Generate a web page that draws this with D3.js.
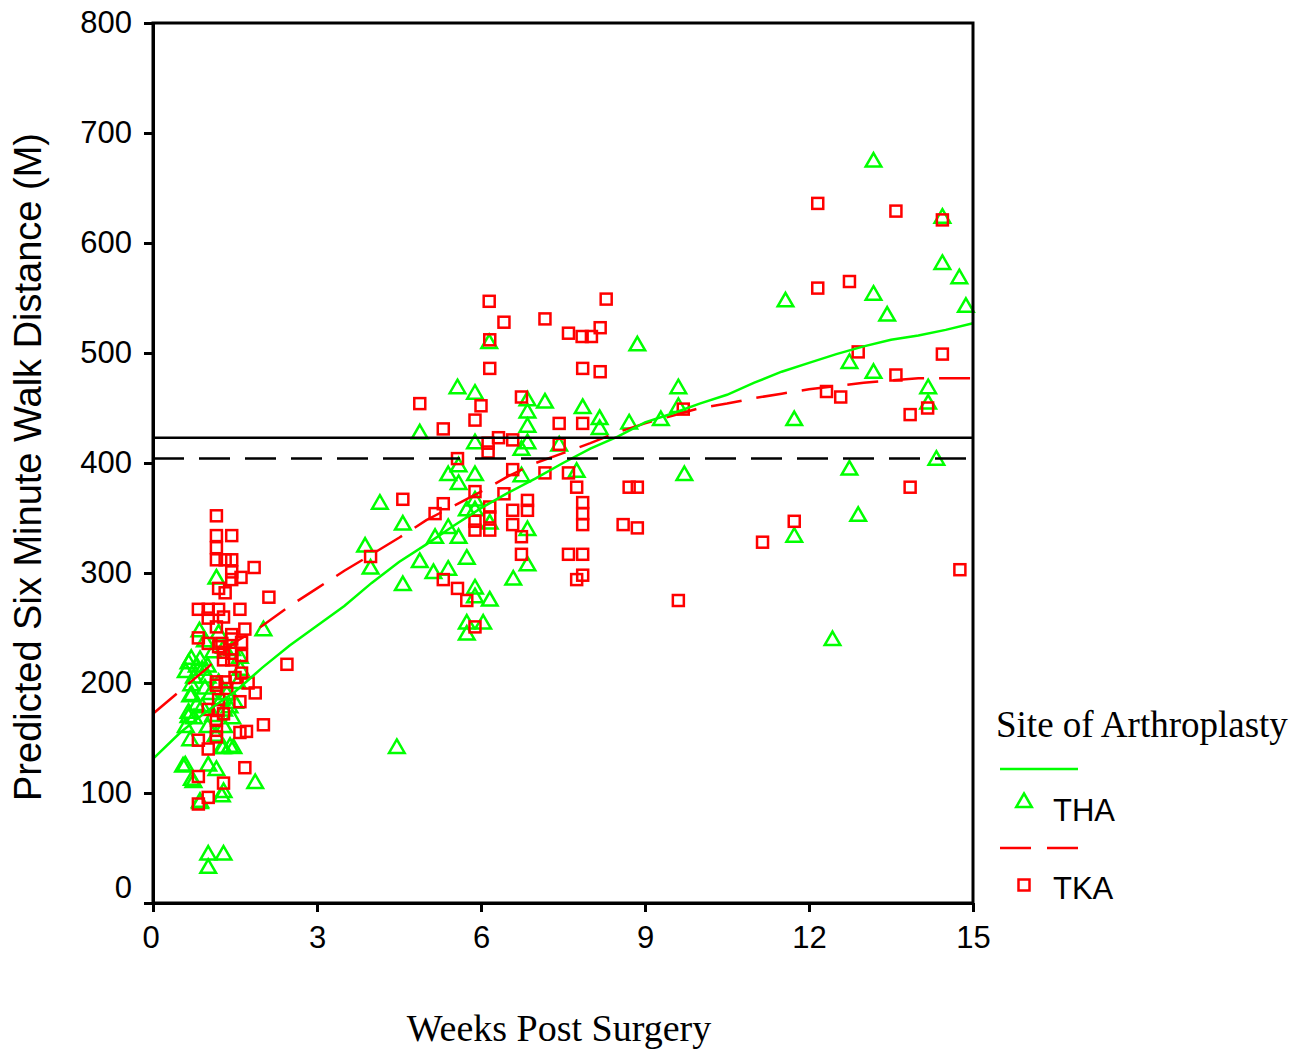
<!DOCTYPE html>
<html>
<head>
<meta charset="utf-8">
<script src="https://cdn.jsdelivr.net/npm/d3@7/dist/d3.min.js"></script>
<style>
  html, body { margin: 0; padding: 0; background: #fff; }
  svg { display: block; }
</style>
</head>
<body>
<svg id="chart" width="1294" height="1049"></svg>
<script>
// ---------------- DATA ----------------
const xTicks = [0, 3, 6, 9, 12, 15];
const yTicks = [0, 100, 200, 300, 400, 500, 600, 700, 800];
const seriesNames = ["THA", "TKA"];
const legendTitle = "Site of Arthroplasty";
const xTitle = "Weeks Post Surgery";
const yTitle = "Predicted Six Minute Walk Distance (M)";

// reference lines (distance in metres)
const solidRef = 423;
const dashedRef = 404;

// THA observations [weeks, distance]
const thaPoints = [
  [1.16,295],[2.02,248],[0.85,247],[0.65,218],[0.86,221],[1.59,223],[0.68,188],[0.65,173],
  [0.68,148],[1.41,142],[1.26,141],[0.55,124],[1.01,125],[1.16,121],[0.74,110],[1.87,109],
  [1.29,101],[0.86,92],[1.01,44],[1.29,44],[1.01,32],[0.71,189],[0.65,169],[1.29,141],
  [1.47,141],[0.59,125],[0.71,112],[1.26,97],[0.86,91],
  [0.6,210],[0.7,222],[0.75,205],[0.8,215],[0.9,212],[0.95,195],[1.0,205],[1.05,190],
  [0.7,198],[0.8,180],[0.9,178],[1.1,170],[1.2,200],[1.25,185],[1.3,175],[1.35,190],
  [1.4,178],[1.45,168],[1.5,182],[1.55,200],[1.6,212],[0.6,160],[0.75,168],[1.0,160],
  [1.15,152],[1.3,160],[0.95,238],[1.1,228],[1.2,245],[1.3,232],[1.45,230],[1.0,215],
  [4.46,141],[4.15,363],[4.57,344],[3.88,324],[3.98,304],[4.57,289],[4.88,427],[4.88,310],
  [5.13,300],[5.16,332],[5.4,303],[5.4,341],[5.4,389],[5.57,468],[5.59,397],[5.59,381],
  [5.59,332],[5.74,313],[5.74,357],[5.74,254],[5.74,244],[5.89,463],[5.89,418],[5.89,389],
  [5.89,366],[5.89,286],[5.89,278],[5.89,357],[6.04,254],[6.15,509],[6.16,345],[6.16,275],
  [6.59,294],[6.74,412],[6.74,388],[6.85,457],[6.85,446],[6.85,433],[6.85,418],[6.85,339],
  [6.85,307],[7.17,455],[7.43,416],[7.75,392],[7.86,450],[8.17,440],[8.17,431],[8.71,436],
  [8.86,507],[9.29,439],[9.61,468],[9.61,451],[9.72,389],
  [11.57,547],[11.73,439],[11.73,333],[12.43,239],[12.74,491],[12.74,394],[12.9,352],
  [13.18,674],[13.18,553],[13.18,482],[13.43,534],[14.18,468],[14.18,454],[14.33,403],
  [14.44,623],[14.44,581],[14.75,568],[14.87,542]
];

// TKA observations [weeks, distance]
const tkaPoints = [
  [1.16,352],[1.16,334],[1.44,334],[1.16,323],[1.16,312],[1.32,312],[1.44,312],[1.44,301],
  [1.44,294],[1.61,296],[1.85,305],[1.2,286],[1.32,282],[2.12,278],[0.83,267],[1.01,267],
  [1.2,267],[1.59,267],[1.01,259],[1.29,260],[1.16,251],[1.68,249],[1.44,244],[0.83,241],
  [1.01,236],[1.26,236],[1.62,237],[1.29,228],[1.62,225],[1.44,227],[1.29,221],[1.44,221],
  [2.45,217],[1.62,209],[1.16,201],[1.32,201],[1.74,200],[1.16,198],[1.87,191],[1.59,183],
  [1.01,176],[1.19,175],[1.29,172],[1.16,166],[2.02,162],[1.71,156],[1.59,155],[1.16,157],
  [1.16,151],[0.83,148],[1.01,140],[1.68,123],[0.83,115],[1.29,109],[1.01,96],[0.83,90],
  [1.44,240],[1.2,233],[1.5,205],[1.35,195],[1.2,185],
  [3.98,315],[4.57,367],[4.88,454],[5.16,354],[5.31,431],[5.31,363],[5.31,294],[5.57,404],
  [5.57,286],[5.74,275],[5.89,439],[5.89,374],[5.89,347],[5.89,339],[5.89,251],[6.0,452],
  [6.13,418],[6.13,410],[6.15,547],[6.16,512],[6.16,486],[6.16,360],[6.16,351],[6.16,339],
  [6.32,423],[6.42,528],[6.42,372],[6.58,421],[6.58,394],[6.58,357],[6.58,344],[6.74,460],
  [6.74,333],[6.74,317],[6.85,366],[6.85,357],[7.17,531],[7.17,391],[7.43,436],[7.43,417],
  [7.6,518],[7.6,391],[7.6,317],[7.75,378],[7.75,294],[7.85,515],[7.86,486],[7.86,436],
  [7.86,364],[7.86,354],[7.86,344],[7.86,317],[7.86,298],[8.02,515],[8.18,523],[8.18,483],
  [8.29,549],[8.6,344],[8.71,378],[8.86,378],[8.86,341],[9.61,275],[9.7,449],
  [11.15,328],[11.73,347],[12.16,636],[12.16,559],[12.32,465],[12.58,460],[12.74,565],
  [12.9,501],[13.59,629],[13.59,480],[13.85,444],[13.85,378],[14.17,450],[14.44,621],
  [14.44,499],[14.76,303]
];

// smoothed (loess) curves [weeks, distance]
const thaCurve = [
  [0,131],[0.5,155],[1,175],[1.5,192],[2,214],[2.5,234],[3,252],[3.5,270],[4,291],[4.5,310],
  [5,326],[5.5,343],[6,359],[6.5,373],[7,386],[7.5,400],[8,413],[8.5,424],[9,437],[9.5,445],
  [10,454],[10.5,462],[11,473],[11.5,483],[12,491],[12.5,499],[13,506],[13.5,512],[14,516],
  [14.5,521],[15,527]
];
const tkaCurve = [
  [0,172],[0.5,193],[1,214],[1.5,237],[2,252],[2.5,270],[3,286],[3.5,302],[4,317],[4.5,332],
  [5,348],[5.5,361],[6,374],[6.5,388],[7,400],[7.5,409],[8,418],[8.5,428],[9,436],[9.5,443],
  [10,450],[10.5,454],[11,459],[11.5,463],[12,467],[12.5,470],[13,473],[13.5,475],[14,477],
  [14.5,477],[15,477]
];

// ---------------- STYLE / LAYOUT ----------------
const GREEN = "#00ff00", RED = "#ff0000";
const M = { left: 153, right: 973, top: 23, bottom: 903 };
const SANS = "'Liberation Sans', Arial, sans-serif";
const SERIF = "'Liberation Serif', 'Times New Roman', serif";

const svg = d3.select("#chart");
const x = d3.scaleLinear().domain([0, 15]).range([M.left, M.right]);
const y = d3.scaleLinear().domain([0, 800]).range([M.bottom, M.top]);

const triPath = "M0,-8.5 L7.8,5 L-7.8,5 Z";

// points
const gPts = svg.append("g");
gPts.selectAll("path.tha").data(thaPoints).join("path")
  .attr("class", "tha")
  .attr("d", triPath)
  .attr("transform", d => `translate(${x(d[0])},${y(d[1])})`)
  .attr("fill", "none").attr("stroke", GREEN).attr("stroke-width", 2.5);

gPts.selectAll("rect.tka").data(tkaPoints).join("rect")
  .attr("class", "tka")
  .attr("x", d => x(d[0]) - 5.5).attr("y", d => y(d[1]) - 5.5)
  .attr("width", 11).attr("height", 11)
  .attr("fill", "none").attr("stroke", RED).attr("stroke-width", 2.5);

// curves
const line = d3.line().x(d => x(d[0])).y(d => y(d[1]));
svg.append("path").datum(tkaCurve).attr("d", line)
  .attr("fill", "none").attr("stroke", RED).attr("stroke-width", 2.5)
  .attr("stroke-dasharray", "31,15");
svg.append("path").datum(thaCurve).attr("d", line)
  .attr("fill", "none").attr("stroke", GREEN).attr("stroke-width", 2.5);

// reference lines
svg.append("line")
  .attr("x1", x(0)).attr("x2", x(15)).attr("y1", y(solidRef)).attr("y2", y(solidRef))
  .attr("stroke", "#000").attr("stroke-width", 2.5);
svg.append("line")
  .attr("x1", x(0)).attr("x2", x(15)).attr("y1", y(dashedRef)).attr("y2", y(dashedRef))
  .attr("stroke", "#000").attr("stroke-width", 2.5).attr("stroke-dasharray", "31,15");

// frame
svg.append("rect")
  .attr("x", M.left).attr("y", M.top)
  .attr("width", M.right - M.left).attr("height", M.bottom - M.top)
  .attr("fill", "none").attr("stroke", "#000").attr("stroke-width", 3);

// axes
const xAxis = svg.append("g").attr("transform", `translate(0,${M.bottom})`)
  .call(d3.axisBottom(x).tickValues(xTicks).tickSize(9).tickSizeOuter(0).tickPadding(14));
const yAxis = svg.append("g").attr("transform", `translate(${M.left},0)`)
  .call(d3.axisLeft(y).tickValues(yTicks).tickSize(9).tickSizeOuter(0).tickPadding(12));
[xAxis, yAxis].forEach(a => {
  a.select(".domain").attr("stroke", "#000").attr("stroke-width", 3);
  a.selectAll(".tick line").attr("stroke", "#000").attr("stroke-width", 3);
  a.selectAll(".tick text").attr("fill", "#000")
    .style("font-family", SANS).style("font-size", "31px");
});
yAxis.selectAll(".tick").filter(d => d === 0).select("text").attr("dy", "-0.18em");
xAxis.selectAll(".tick").filter(d => d === 0).select("text").attr("dx", "-0.08em");

// axis titles
svg.append("text")
  .attr("transform", `translate(41,${(M.top + M.bottom) / 2 + 4}) rotate(-90)`)
  .attr("text-anchor", "middle")
  .style("font-family", SANS).style("font-size", "38px")
  .text(yTitle);
svg.append("text")
  .attr("x", 559).attr("y", 1041)
  .attr("text-anchor", "middle")
  .style("font-family", SERIF).style("font-size", "38px")
  .text(xTitle);

// legend
const lg = svg.append("g");
lg.append("text").attr("x", 996).attr("y", 737)
  .style("font-family", SERIF).style("font-size", "37px").text(legendTitle);
lg.append("line").attr("x1", 1000).attr("x2", 1078).attr("y1", 769).attr("y2", 769)
  .attr("stroke", GREEN).attr("stroke-width", 2.5);
lg.append("path").attr("d", triPath).attr("transform", "translate(1024,802)")
  .attr("fill", "none").attr("stroke", GREEN).attr("stroke-width", 2.5);
lg.append("text").attr("x", 1053).attr("y", 821)
  .style("font-family", SANS).style("font-size", "31px").text(seriesNames[0]);
lg.append("line").attr("x1", 1000).attr("x2", 1078).attr("y1", 848).attr("y2", 848)
  .attr("stroke", RED).attr("stroke-width", 2.5).attr("stroke-dasharray", "31,16");
lg.append("rect").attr("x", 1018.5).attr("y", 879.5).attr("width", 11).attr("height", 11)
  .attr("fill", "none").attr("stroke", RED).attr("stroke-width", 2.5);
lg.append("text").attr("x", 1053).attr("y", 899)
  .style("font-family", SANS).style("font-size", "31px").text(seriesNames[1]);
</script>
</body>
</html>
